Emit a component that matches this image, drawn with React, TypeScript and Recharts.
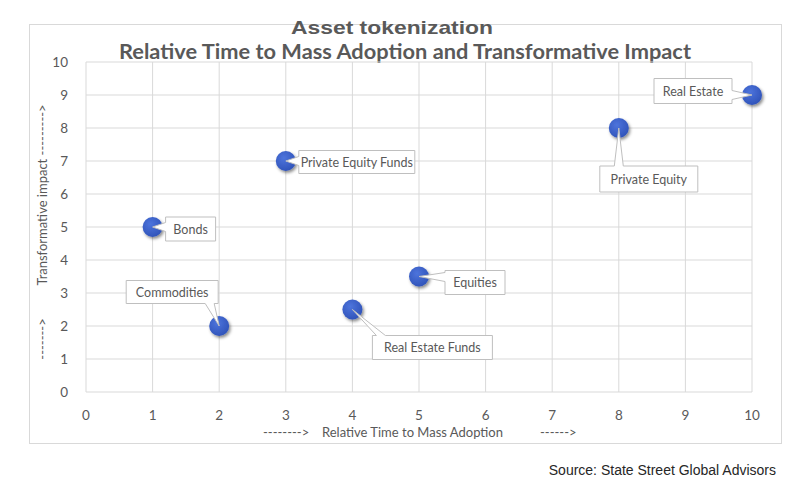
import React from "react";
import { ScatterChart, Scatter, XAxis, YAxis, CartesianGrid } from "recharts";

const assetNames = [
  "Bonds",
  "Commodities",
  "Private Equity Funds",
  "Real Estate Funds",
  "Equities",
  "Private Equity",
  "Real Estate",
];
const timeToAdoption = [1, 2, 3, 4, 5, 8, 10];
const transformativeImpact = [5, 2, 7, 2.5, 3.5, 8, 9];
const axisTicks = [0, 1, 2, 3, 4, 5, 6, 7, 8, 9, 10];

const data = assetNames.map((name, i) => ({
  name,
  x: timeToAdoption[i],
  y: transformativeImpact[i],
}));

// label callout layout (pixel offsets of box centre from point, box size)
const labelLayout: Record<string, { dx: number; dy: number; w: number; h: number }> = {
  Bonds: { dx: 38, dy: 2, w: 50, h: 24 },
  Commodities: { dx: -47, dy: -34, w: 92, h: 23 },
  "Private Equity Funds": { dx: 71, dy: 1, w: 116, h: 23 },
  "Real Estate Funds": { dx: 80, dy: 38, w: 120, h: 24 },
  Equities: { dx: 56, dy: 6, w: 60, h: 24 },
  "Private Equity": { dx: 30, dy: 51, w: 98, h: 26 },
  "Real Estate": { dx: -59, dy: -4, w: 78, h: 25 },
};

const FONT = "Lato, 'Open Sans', sans-serif";
const GRAY = "#595959";

const Marker = (props: any) => {
  const { cx, cy } = props;
  if (cx == null || cy == null) return null;
  return (
    <circle cx={cx} cy={cy} r={10} fill="url(#markerGrad)" filter="url(#markerShadow)" />
  );
};

const Callout = (props: any) => {
  const { cx, cy, payload } = props;
  if (cx == null || cy == null || !payload) return null;
  const L = labelLayout[payload.name];
  if (!L) return null;
  const bx = cx + L.dx;
  const by = cy + L.dy;
  const x0 = bx - L.w / 2;
  const x1 = bx + L.w / 2;
  const y0 = by - L.h / 2;
  const y1 = by + L.h / 2;
  const ox = Math.max(x0 - cx, 0, cx - x1);
  const oy = Math.max(y0 - cy, 0, cy - y1);
  const ww = 9;
  let side: string;
  if (ox >= oy) side = cx < x0 ? "left" : "right";
  else side = cy < y0 ? "top" : "bottom";
  const clamp = (v: number, lo: number, hi: number) => Math.max(lo, Math.min(hi, v));
  let d = "";
  if (side === "left") {
    const s = clamp(cy - ww / 2, y0 + 2, y1 - ww - 2);
    d = `M${x0},${y0} L${x1},${y0} L${x1},${y1} L${x0},${y1} L${x0},${s + ww} L${cx},${cy} L${x0},${s} Z`;
  } else if (side === "right") {
    const s = clamp(cy - ww / 2, y0 + 2, y1 - ww - 2);
    d = `M${x0},${y0} L${x1},${y0} L${x1},${s} L${cx},${cy} L${x1},${s + ww} L${x1},${y1} L${x0},${y1} Z`;
  } else if (side === "top") {
    const s = clamp(cx - ww / 2, x0 + 4, x1 - ww - 4);
    d = `M${x0},${y0} L${s},${y0} L${cx},${cy} L${s + ww},${y0} L${x1},${y0} L${x1},${y1} L${x0},${y1} Z`;
  } else {
    const s = clamp(cx - ww / 2, x0 + 4, x1 - ww - 4);
    d = `M${x0},${y0} L${x1},${y0} L${x1},${y1} L${s + ww},${y1} L${cx},${cy} L${s},${y1} L${x0},${y1} Z`;
  }
  return (
    <g>
      <path d={d} fill="#ffffff" stroke="#bfbfbf" strokeWidth={1} strokeLinejoin="miter" />
      <text
        x={bx}
        y={by}
        textAnchor="middle"
        dominantBaseline="central"
        fontFamily={FONT}
        fontSize={12.5}
        fill={GRAY}
      >
        {payload.name}
      </text>
    </g>
  );
};

export default function App() {
  return (
    <div style={{ position: "absolute", left: 0, top: 0, width: 810, height: 496, background: "#fff" }}>
      <svg
        width={810}
        height={496}
        style={{ position: "absolute", left: 0, top: 0 }}
      >
        <defs>
          <radialGradient id="markerGrad" cx="40%" cy="35%" r="70%">
            <stop offset="0%" stopColor="#4d74dc" />
            <stop offset="100%" stopColor="#2f52b8" />
          </radialGradient>
          <filter id="markerShadow" x="-50%" y="-50%" width="200%" height="200%">
            <feDropShadow dx="1.5" dy="2" stdDeviation="1.6" floodColor="#000" floodOpacity="0.45" />
          </filter>
        </defs>
        <rect x={29.5} y={24.5} width={752} height={419} fill="#fff" stroke="#d9d9d9" strokeWidth={1} />
        <text
          x={392}
          y={34}
          textAnchor="middle"
          fontFamily="'Liberation Sans', Arial, sans-serif"
          fontWeight="bold"
          fontSize={19}
          fill={GRAY}
          textLength={202}
          lengthAdjust="spacingAndGlyphs"
        >
          Asset tokenization
        </text>
        <text
          x={405}
          y={59}
          textAnchor="middle"
          fontFamily={FONT}
          fontWeight="bold"
          fontSize={20}
          fill={GRAY}
          textLength={572}
          lengthAdjust="spacingAndGlyphs"
        >
          Relative Time to Mass Adoption and Transformative Impact
        </text>
        <text x={263} y={437} fontFamily={FONT} fontSize={13} fill={GRAY}>
          --------&gt;
        </text>
        <text x={322} y={437} fontFamily={FONT} fontSize={13} fill={GRAY}>
          Relative Time to Mass Adoption
        </text>
        <text x={540} y={437} fontFamily={FONT} fontSize={13} fill={GRAY}>
          ------&gt;
        </text>
        <text
          x={0}
          y={0}
          transform="translate(47,195) rotate(-90)"
          textAnchor="middle"
          fontFamily={FONT}
          fontSize={13}
          fill={GRAY}
        >
          Transformative impact ---------&gt;
        </text>
        <text
          x={0}
          y={0}
          transform="translate(47,339) rotate(-90)"
          textAnchor="middle"
          fontFamily={FONT}
          fontSize={13}
          fill={GRAY}
        >
          -------&gt;
        </text>
        <text
          x={776}
          y={475}
          textAnchor="end"
          fontFamily="'Liberation Sans', Arial, sans-serif"
          fontSize={14}
          fill="#262626"
        >
          Source: State Street Global Advisors
        </text>
      </svg>
      <div style={{ position: "absolute", left: 0, top: 0 }}>
        <ScatterChart
          width={810}
          height={496}
          margin={{ top: 62, right: 58, bottom: 74, left: 46 }}
        >
          <CartesianGrid stroke="#d9d9d9" strokeWidth={1} />
          <XAxis
            type="number"
            dataKey="x"
            domain={[0, 10]}
            ticks={axisTicks}
            interval={0}
            axisLine={false}
            tickLine={false}
            tickMargin={12}
            height={30}
            tick={{ fontFamily: FONT, fontSize: 13.5, fill: GRAY }}
          />
          <YAxis
            type="number"
            dataKey="y"
            domain={[0, 10]}
            ticks={axisTicks}
            interval={0}
            axisLine={false}
            tickLine={false}
            tickMargin={12}
            width={40}
            tick={{ fontFamily: FONT, fontSize: 13.5, fill: GRAY }}
          />
          <Scatter data={data} shape={<Marker />} isAnimationActive={false} />
          <Scatter data={data} shape={<Callout />} isAnimationActive={false} />
        </ScatterChart>
      </div>
    </div>
  );
}
